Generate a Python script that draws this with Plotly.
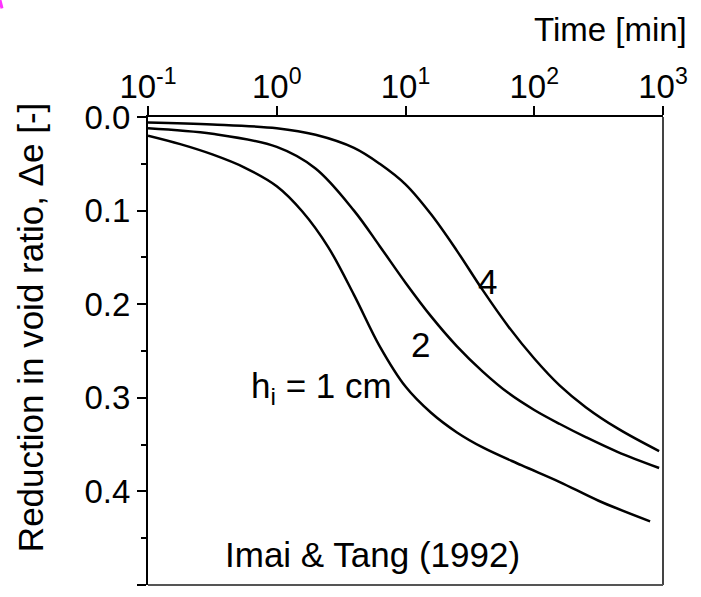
import plotly.graph_objects as go

# ---- data ----
# h_i = 1 cm
t1 = [0.1, 0.178, 0.316, 0.562, 1.0, 1.58, 2.51, 3.98, 6.31, 10.0, 15.8, 25.1, 39.8, 79.4, 158, 316, 794]
e1 = [0.020, 0.029, 0.040, 0.054, 0.074, 0.101, 0.139, 0.190, 0.245, 0.288, 0.316, 0.337, 0.353, 0.372, 0.390, 0.410, 0.432]
# h_i = 2 cm
t2 = [0.1, 0.316, 1.0, 2.0, 3.98, 6.31, 10.0, 15.8, 25.1, 39.8, 63.1, 100, 158, 251, 447, 933]
e2 = [0.012, 0.018, 0.032, 0.055, 0.100, 0.138, 0.177, 0.213, 0.245, 0.272, 0.295, 0.313, 0.328, 0.342, 0.358, 0.375]
# h_i = 4 cm
t4 = [0.1, 0.316, 1.0, 2.0, 3.98, 6.31, 10.0, 15.8, 25.1, 39.8, 63.1, 100, 158, 251, 447, 933]
e4 = [0.006, 0.008, 0.012, 0.019, 0.033, 0.050, 0.072, 0.104, 0.143, 0.185, 0.224, 0.258, 0.287, 0.310, 0.333, 0.357]

x_tickvals = [0.1, 1, 10, 100, 1000]
x_ticktext = ["10<sup>-1</sup>", "10<sup>0</sup>", "10<sup>1</sup>", "10<sup>2</sup>", "10<sup>3</sup>"]
y_tickvals = [0.0, 0.1, 0.2, 0.3, 0.4, 0.5]
y_ticktext = ["0.0", "0.1", "0.2", "0.3", "0.4", "0.5"]

FONT = "Liberation Sans, Arial, sans-serif"
FS_TICK = 33
FS_TXT = 35

fig = go.Figure()
for t, e in [(t1, e1), (t2, e2), (t4, e4)]:
    fig.add_trace(go.Scatter(x=t, y=e, mode="lines",
                             line=dict(color="black", width=2.5, shape="spline", smoothing=1.0),
                             showlegend=False, hoverinfo="skip"))

fig.update_layout(
    width=701, height=597,
    margin=dict(l=148, r=38, t=117, b=12),
    paper_bgcolor="white", plot_bgcolor="white",
    font=dict(family=FONT, size=FS_TICK, color="black"),
    xaxis=dict(type="log", range=[-1, 3], side="top", tickvals=x_tickvals, ticktext=x_ticktext,
               ticks="outside", ticklen=9, tickwidth=1.5, tickcolor="black", ticklabelstandoff=-5,
               showline=True, linewidth=2, linecolor="black", showgrid=False, zeroline=False,
               tickfont=dict(family=FONT, size=FS_TICK, color="black")),
    yaxis=dict(range=[0.5, 0], tickvals=y_tickvals, ticktext=y_ticktext,
               ticks="outside", ticklen=9, tickwidth=1.5, tickcolor="black",
               minor=dict(ticks="outside", ticklen=5, tickwidth=1.5, tickcolor="black", dtick=0.05, showgrid=False),
               showline=True, linewidth=2, linecolor="black", showgrid=False, zeroline=False,
               tickfont=dict(family=FONT, size=FS_TICK, color="black")),
    shapes=[
        dict(type="line", xref="paper", yref="paper", x0=1, x1=1, y0=0, y1=1, line=dict(color="#444", width=2)),
        dict(type="line", xref="paper", yref="paper", x0=0, x1=1, y0=0, y1=0, line=dict(color="#555", width=2)),
        dict(type="line", xref="paper", yref="paper", x0=-0.2874, x1=-0.2835, y0=1.25, y1=1.232,
             line=dict(color="#ff33ff", width=3)),
    ],
    annotations=[
        dict(text="Time [min]", xref="paper", yref="paper", x=1.05, y=1.186, xanchor="right", yanchor="middle",
             showarrow=False, font=dict(size=33)),
        dict(text="Reduction in void ratio, \u0394e [-]", xref="paper", yref="paper", x=-0.229, y=0.549,
             xanchor="center", yanchor="middle", textangle=-90, showarrow=False, font=dict(size=FS_TXT)),
        dict(text="4", x=1.633, y=0.176, xref="x", yref="y", showarrow=False, font=dict(size=FS_TXT)),
        dict(text="2", x=1.113, y=0.243, xref="x", yref="y", showarrow=False, font=dict(size=FS_TXT)),
        dict(text="h<sub>i</sub> = 1 cm", x=0.351, y=0.289, xref="x", yref="y", showarrow=False, font=dict(size=FS_TXT)),
        dict(text="Imai &amp; Tang (1992)", x=0.74, y=0.467, xref="x", yref="y", showarrow=False, font=dict(size=FS_TXT)),
        dict(text="12", xref="paper", yref="paper", x=-0.155, y=1.248, xanchor="left", yanchor="bottom",
             showarrow=False, font=dict(size=FS_TXT)),
    ],
)

fig.write_html("out.html")
